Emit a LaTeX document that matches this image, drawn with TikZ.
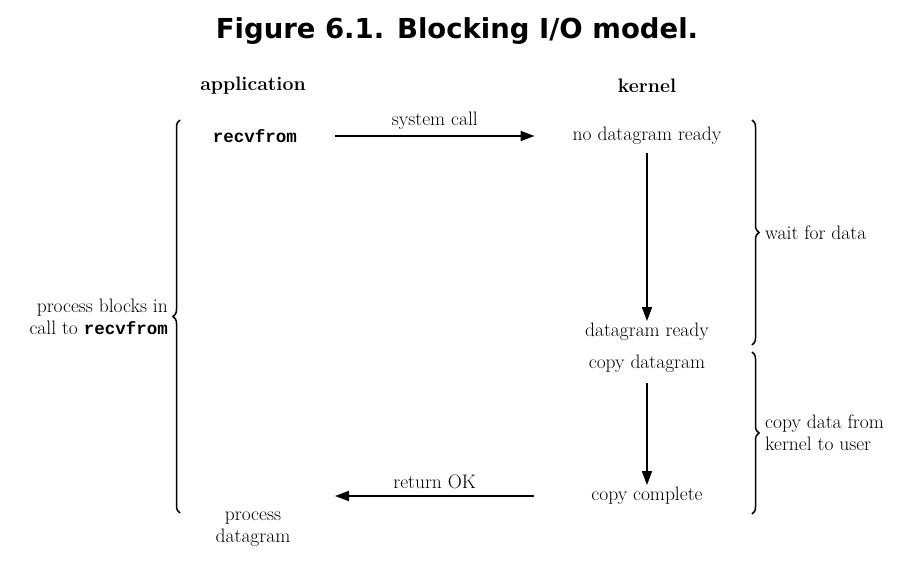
\documentclass[tikz,border=0pt]{standalone}
\usepackage{fontspec}
\newfontfamily\titlefont{DejaVu Sans}
\newfontfamily\codefont{Liberation Mono}
\usetikzlibrary{arrows.meta,decorations.pathreplacing}
\tikzset{
  lbl/.style={inner sep=0pt, font=\fontsize{19.5}{22}\selectfont, align=center},
  head/.style={lbl, font=\fontsize{19.5}{22}\selectfont\bfseries},
  code/.style={inner sep=0pt, font=\fontsize{17.5}{22}\selectfont\codefont\bfseries},
  arr/.style={line width=1.7pt, -{Triangle[length=14pt,width=10pt]}},
  brc/.style={line width=1.5pt, decorate, decoration={brace, amplitude=7pt, aspect=0.5}}
}
\newcommand{\cd}[1]{{\fontsize{17.5}{22}\selectfont\codefont\bfseries #1}}
\begin{document}
\begin{tikzpicture}[x=1pt,y=1pt]
\useasboundingbox (0,0) rectangle (922,-576);
\node[inner sep=0pt, font=\fontsize{27.5}{32}\selectfont\titlefont\bfseries] (title) at (457,-31) {Figure 6.1. Blocking I/O model.};
\node[head] (app) at (253,-86) {application};
\node[head] (kern) at (647,-86) {kernel};
\node[code] (recv) at (255,-136) {recvfrom};
\node[lbl] (nodg) at (647,-136) {no datagram ready};
\node[lbl] (dgr) at (647,-332) {datagram ready};
\node[lbl] (cpd) at (647,-364) {copy datagram};
\node[lbl] (cpc) at (647,-496) {copy complete};
\node[lbl] (proc) at (253,-529) {process\\datagram};
\draw[arr] ([xshift=38pt]recv.east) -- node[lbl, above=6pt] (sc) {system call} ([xshift=-38pt]nodg.west);
\draw[arr] ([yshift=-8pt]nodg.south) -- ([yshift=2pt]dgr.north);
\draw[arr] ([yshift=-10pt]cpd.south) -- ([yshift=2pt]cpc.north);
\draw[arr] ([xshift=-57pt]cpc.west) -- node[lbl, above=6pt] (rok) {return OK} (335,-496);
\coordinate (lb1) at (180,-513);
\coordinate (lb2) at (180,-120);
\draw[brc] (lb1) -- (lb2);
\node[lbl, align=right, anchor=east] (blocks) at (168,-317) {process blocks in\\call to \cd{recvfrom}};
\coordinate (rb1) at (752,-120);
\coordinate (rb2) at (752,-345);
\draw[brc] (rb1) -- (rb2);
\node[lbl, anchor=west] (wait) at (765,-233) {wait for data};
\coordinate (rb3) at (752,-352);
\coordinate (rb4) at (752,-514);
\draw[brc] (rb3) -- (rb4);
\node[lbl, align=left, anchor=west] (copyk) at (765,-433) {copy data from\\kernel to user};
\end{tikzpicture}
\end{document}
